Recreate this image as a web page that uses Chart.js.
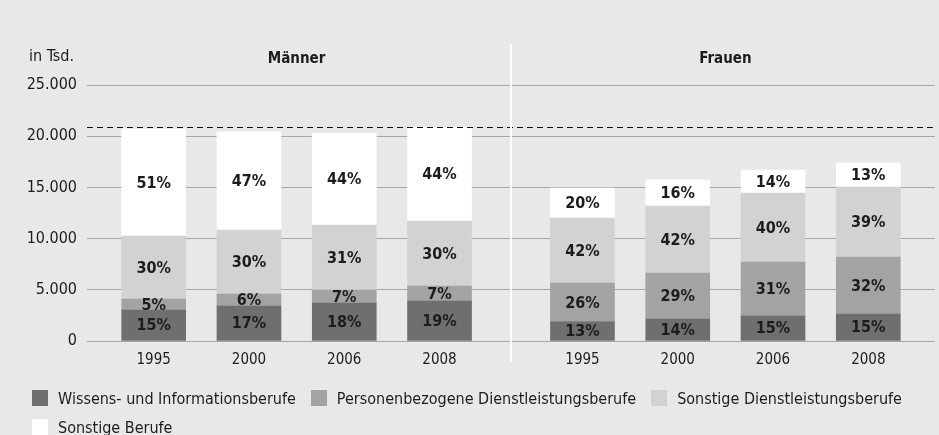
<!DOCTYPE html>
<html lang="de">
<head>
<meta charset="utf-8">
<script src="https://cdn.jsdelivr.net/npm/chart.js@4.4.1/dist/chart.umd.min.js"></script>
<style>
    html, body { margin: 0; padding: 0; background: #e8e8e8; }
    #wrap { position: relative; width: 939px; height: 435px; }
    #legend {
        position: absolute; left: 32px; top: 390px; width: 900px;
        display: flex; flex-wrap: wrap; row-gap: 13px;
        font: 16px "DejaVu Sans Condensed", "DejaVu Sans", sans-serif; color: #1c1c1c;
    }
    .item { display: flex; align-items: center; height: 16px; margin-right: 15px; }
    .box { width: 16px; height: 16px; margin-right: 10px; }
</style>
</head>
<body>
<div id="wrap">
    <canvas id="chart"></canvas>
    <div id="legend"></div>
</div>
<script>
// Daten (in Tsd.)
const jahre = ['1995', '2000', '2006', '2008'];
const gruppen = ['Männer', 'Frauen'];
const serien = [
    'Wissens- und Informationsberufe',
    'Personenbezogene Dienstleistungsberufe',
    'Sonstige Dienstleistungsberufe',
    'Sonstige Berufe'
];

const wissenMaenner   = [3030, 3420, 3710, 3910];
const personenMaenner = [1070, 1170, 1270, 1460];
const dienstMaenner   = [6150, 6250, 6350, 6350];
const sonstigeMaenner = [10450, 9570, 8980, 9180];

const wissenFrauen   = [1860, 2150, 2440, 2640];
const personenFrauen = [3800, 4490, 5270, 5560];
const dienstFrauen   = [6350, 6540, 6740, 6840];
const sonstigeFrauen = [2930, 2540, 2250, 2340];

// Anteile laut Beschriftung (Männer, dann Frauen)
const anteilWissen   = ['15%', '17%', '18%', '19%', '13%', '14%', '15%', '15%'];
const anteilPersonen = ['5%', '6%', '7%', '7%', '26%', '29%', '31%', '32%'];
const anteilDienst   = ['30%', '30%', '31%', '30%', '42%', '42%', '40%', '39%'];
const anteilSonstige = ['51%', '47%', '44%', '44%', '20%', '16%', '14%', '13%'];

const referenzWert = 20850; // gestrichelte Linie

// Darstellung
const SCHRIFT = '"DejaVu Sans Condensed", "DejaVu Sans", sans-serif';
const TEXTFARBE = '#1c1c1c';
const farben = ['#6f6f6f', '#a3a3a3', '#d2d2d2', '#ffffff'];
const gruppenAbstand = 1.5; // Abstand zwischen den Gruppen in Balkenbreiten

// Positionen der Balken auf der x-Achse
const slots = [];
gruppen.forEach((g, gi) => {
    jahre.forEach((j, ji) => slots.push(gi * (jahre.length - 1 + gruppenAbstand) + ji));
});
const xLabels = gruppen.flatMap(() => jahre);
const mitte = (slots[0] + slots[slots.length - 1]) / 2;

function punkte(maenner, frauen) {
    return maenner.concat(frauen).map((v, i) => ({ x: slots[i], y: v }));
}

const datasets = [
    { label: serien[0], data: punkte(wissenMaenner, wissenFrauen), anteile: anteilWissen },
    { label: serien[1], data: punkte(personenMaenner, personenFrauen), anteile: anteilPersonen },
    { label: serien[2], data: punkte(dienstMaenner, dienstFrauen), anteile: anteilDienst },
    { label: serien[3], data: punkte(sonstigeMaenner, sonstigeFrauen), anteile: anteilSonstige }
].map((ds, i) => ({
    ...ds,
    backgroundColor: farben[i],
    borderWidth: 0,
    barThickness: 64
}));

// Prozentwerte in den Segmenten
const prozentLabels = {
    id: 'prozentLabels',
    afterDatasetsDraw(chart) {
        const ctx = chart.ctx;
        ctx.save();
        ctx.font = 'bold 16px ' + SCHRIFT;
        ctx.fillStyle = TEXTFARBE;
        ctx.textAlign = 'center';
        ctx.textBaseline = 'middle';
        chart.data.datasets.forEach((ds, di) => {
            chart.getDatasetMeta(di).data.forEach((bar, i) => {
                ctx.fillText(ds.anteile[i], bar.x, (bar.y + bar.base) / 2 + 1);
            });
        });
        ctx.restore();
    }
};

// Trennlinie, Referenzlinie, Überschriften
const rahmen = {
    id: 'rahmen',
    afterDatasetsDraw(chart) {
        const { ctx, chartArea, scales } = chart;
        ctx.save();

        // gestrichelte Linie
        const yRef = Math.round(scales.y.getPixelForValue(referenzWert)) + 0.5;
        ctx.strokeStyle = '#111';
        ctx.lineWidth = 1;
        ctx.setLineDash([6, 4]);
        ctx.beginPath();
        ctx.moveTo(chartArea.left, yRef);
        ctx.lineTo(chartArea.right, yRef);
        ctx.stroke();
        ctx.setLineDash([]);

        // weiße Trennlinie zwischen Männern und Frauen
        const xm = scales.x.getPixelForValue(mitte);
        ctx.strokeStyle = '#ffffff';
        ctx.lineWidth = 2;
        ctx.beginPath();
        ctx.moveTo(xm, chartArea.top - 41);
        ctx.lineTo(xm, chartArea.bottom + 21);
        ctx.stroke();

        // Gruppenüberschriften
        ctx.fillStyle = TEXTFARBE;
        ctx.font = 'bold 15px ' + SCHRIFT;
        ctx.textAlign = 'center';
        ctx.textBaseline = 'middle';
        gruppen.forEach((g, gi) => {
            const a = slots[gi * jahre.length];
            const b = slots[gi * jahre.length + jahre.length - 1];
            ctx.fillText(g, scales.x.getPixelForValue((a + b) / 2), chartArea.top - 26);
        });

        // Einheit
        ctx.font = '16px ' + SCHRIFT;
        ctx.textAlign = 'left';
        ctx.fillText('in Tsd.', 29, chartArea.top - 28);
        ctx.restore();
    }
};

const chart = new Chart(document.getElementById('chart'), {
    type: 'bar',
    data: { datasets: datasets },
    options: {
        responsive: true,
        maintainAspectRatio: false,
        animation: false,
        layout: { padding: { top: 85, left: 19, right: 4, bottom: 64 } },
        plugins: {
            legend: { display: false },
            tooltip: { enabled: false }
        },
        scales: {
            x: {
                type: 'linear',
                stacked: true,
                offset: false,
                min: slots[0] - 0.7,
                max: slots[slots.length - 1] + 0.7,
                grid: { display: false, offset: false },
                border: { display: false },
                afterBuildTicks: (scale) => {
                    scale.ticks = slots.map(v => ({ value: v }));
                },
                afterFit: (scale) => { scale.height = 30; },
                ticks: {
                    autoSkip: false,
                    maxRotation: 0,
                    padding: 2,
                    color: TEXTFARBE,
                    font: { family: SCHRIFT, size: 15 },
                    callback: (v, i) => xLabels[i]
                }
            },
            y: {
                stacked: true,
                min: 0,
                max: 25000,
                grid: { color: '#a6a6a6', lineWidth: 1, drawTicks: false },
                border: { display: false },
                afterFit: (scale) => { scale.width = 68; },
                ticks: {
                    stepSize: 5000,
                    padding: 10,
                    color: TEXTFARBE,
                    font: { family: SCHRIFT, size: 16 },
                    callback: (v) => v.toLocaleString('de-DE')
                }
            }
        }
    },
    plugins: [prozentLabels, rahmen]
});

// Legende
const legend = document.getElementById('legend');
serien.forEach((s, i) => {
    const item = document.createElement('div');
    item.className = 'item';
    const box = document.createElement('span');
    box.className = 'box';
    box.style.background = farben[i];
    const text = document.createElement('span');
    text.textContent = s;
    item.appendChild(box);
    item.appendChild(text);
    legend.appendChild(item);
});
</script>
</body>
</html>
